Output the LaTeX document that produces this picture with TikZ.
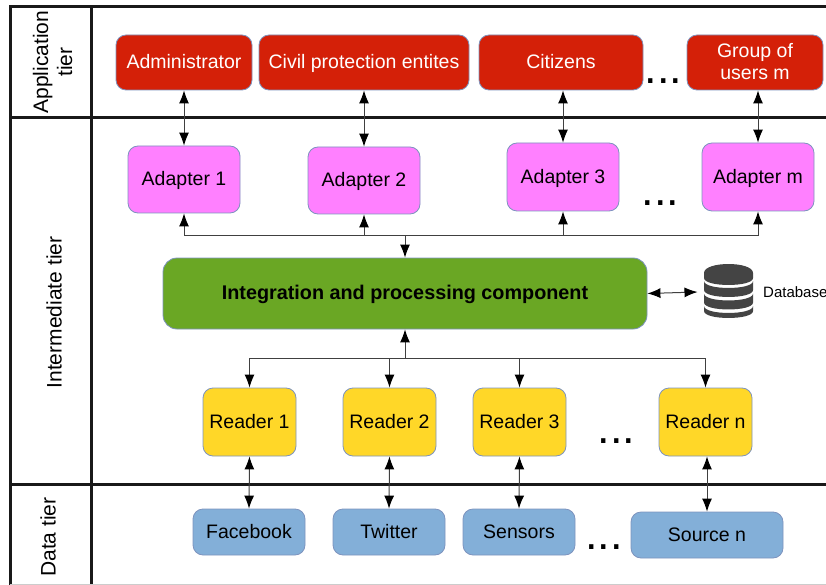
\documentclass[tikz,border=0pt]{standalone}
\usepackage{fontspec}
\setmainfont{Liberation Sans}
\usepackage{tikz}
\usetikzlibrary{arrows.meta}

\definecolor{appRed}{HTML}{D42008}
\definecolor{adapterPink}{HTML}{FF80FF}
\definecolor{coreGreen}{HTML}{6AA724}
\definecolor{readerYellow}{HTML}{FFD728}
\definecolor{sourceBlue}{HTML}{83AFD8}
\definecolor{boxEdge}{HTML}{7D93BE}
\definecolor{dbGrey}{HTML}{444444}

\tikzset{
	box/.style={rectangle, rounded corners=10pt, draw=boxEdge, line width=0.8pt, inner sep=0pt, align=center, text depth=1.5pt, font=\fontsize{19.5}{22}\selectfont},
	appBox/.style={box, fill=appRed, text=white},
	adapterBox/.style={box, fill=adapterPink, minimum width=112pt},
	readerBox/.style={box, fill=readerYellow, minimum width=93pt, minimum height=68pt},
	sourceBox/.style={box, fill=sourceBlue, minimum height=46pt},
	tierLabel/.style={rotate=90, align=center, font=\fontsize{21}{24}\selectfont},
	gridLine/.style={line width=3pt, black!90},
	dots/.style={inner sep=0pt, font=\fontsize{45}{45}\selectfont},
	linkTip/.tip={Latex[length=13pt,width=10pt,color=black]},
	link/.style={draw=black!75, line width=1pt},
	twoWay/.style={link, linkTip-linkTip},
	oneWay/.style={link, -linkTip}
}

\begin{document}
\begin{tikzpicture}[x=1pt,y=-1pt]
	
	\useasboundingbox (0,0) rectangle (826,585);
	
	% Frames
	
	\draw[gridLine] (826,7) -- (10,7) -- (10,585);
	\draw[gridLine] (91,7) -- (91,585);
	\draw[gridLine] (10,118) -- (826,118);
	\draw[gridLine] (10,484) -- (826,484);
	\draw[black!20, line width=0.8pt] (10,584.5) -- (826,584.5);
	
	\node[tierLabel] (tierApp) at (52.5,62) {Application\\tier};
	\node[tierLabel] (tierMid) at (54,312.5) {Intermediate tier};
	\node[tierLabel] (tierData) at (48,537) {Data tier};
	
	% Application tier
	
	\node[appBox, minimum width=136pt, minimum height=55pt] (admin) at (184,62.5) {Administrator};
	\node[appBox, minimum width=210pt, minimum height=55pt] (civil) at (364,62.5) {Civil protection entites};
	\node[appBox, minimum width=164pt, minimum height=55pt] (citizens) at (561,62.5) {Citizens};
	\node[appBox, minimum width=136pt, minimum height=55pt] (groupM) at (755,62.5) {Group of\\users m};
	\node[dots] (dotsApp) at (663.5,81) {...};
	
	% Intermediate tier
	
	\node[adapterBox, minimum height=67pt] (adapter1) at (184,179.5) {Adapter 1};
	\node[adapterBox, minimum height=67pt] (adapter2) at (364,180.5) {Adapter 2};
	\node[adapterBox, minimum height=68pt] (adapter3) at (563,177) {Adapter 3};
	\node[adapterBox, minimum height=68pt] (adapterM) at (758,177) {Adapter m};
	\node[dots] (dotsAdapter) at (660.5,203) {...};
	
	\node[box, fill=coreGreen, rounded corners=14pt, minimum width=484pt, minimum height=71pt, font=\fontsize{19.8}{24}\selectfont\bfseries] (core) at (405,293.5) {Integration and processing component};
	
	\node[minimum width=50pt, minimum height=56pt, inner sep=0pt, outer sep=6pt] (dbIcon) at (728.5,292) {};
	\node[anchor=west, inner sep=0pt, font=\fontsize{15}{18}\selectfont] (dbLabel) at (763,292) {Database};
	
	\fill[dbGrey] (704,273) .. controls (704,261) and (753,261) .. (753,273) -- (753,278) .. controls (753,287.3) and (704,287.3) .. (704,278) -- cycle;
	\foreach \bandTop/\bandLow in {281/290, 293.5/302.5, 306/311} {
		\fill[dbGrey] (704,\bandTop) .. controls (704,\bandTop+9.3) and (753,\bandTop+9.3) .. (753,\bandTop) -- (753,\bandLow) .. controls (753,\bandLow+9.3) and (704,\bandLow+9.3) .. (704,\bandLow) -- cycle;
	}
	
	\node[readerBox] (reader1) at (249.5,422) {Reader 1};
	\node[readerBox] (reader2) at (389.5,422) {Reader 2};
	\node[readerBox] (reader3) at (519.5,422) {Reader 3};
	\node[readerBox] (readerN) at (705.5,422) {Reader n};
	\node[dots] (dotsReader) at (616.5,441) {...};
	
	% Data tier
	
	\node[sourceBox, minimum width=112pt] (facebook) at (249,532) {Facebook};
	\node[sourceBox, minimum width=112pt] (twitter) at (389,532) {Twitter};
	\node[sourceBox, minimum width=112pt] (sensors) at (519,532) {Sensors};
	\node[sourceBox, minimum width=152pt] (sourceN) at (707,535) {Source n};
	\node[dots] (dotsSource) at (604,547) {...};
	
	% Arrows
	
	\draw[twoWay] (admin.south) -- (adapter1.north);
	\draw[twoWay] (civil.south) -- (adapter2.north);
	\draw[twoWay] (citizens.south -| adapter3.north) -- (adapter3.north);
	\draw[twoWay] (groupM.south -| adapterM.north) -- (adapterM.north);
	
	\coordinate (busTop) at (405,235);
	\draw[oneWay] (busTop) -| (adapter1.south);
	\draw[oneWay] (busTop) -| (adapter2.south);
	\draw[oneWay] (busTop) -| (adapter3.south);
	\draw[oneWay] (busTop) -| (adapterM.south);
	\draw[oneWay] (busTop) -- (core.north);
	
	\draw[twoWay] (core.east) -- (dbIcon.west);
	
	\coordinate (busLow) at (405,358);
	\draw[oneWay] (busLow) -- (core.south);
	\draw[oneWay] (busLow) -| (reader1.north);
	\draw[oneWay] (busLow) -| (reader2.north);
	\draw[oneWay] (busLow) -| (reader3.north);
	\draw[oneWay] (busLow) -| (readerN.north);
	
	\draw[twoWay] (reader1.south) -- (facebook.north);
	\draw[twoWay] (reader2.south) -- (twitter.north);
	\draw[twoWay] (reader3.south) -- (sensors.north);
	\draw[twoWay] (readerN.south -| sourceN.north) -- (sourceN.north);
	
\end{tikzpicture}
\end{document}
